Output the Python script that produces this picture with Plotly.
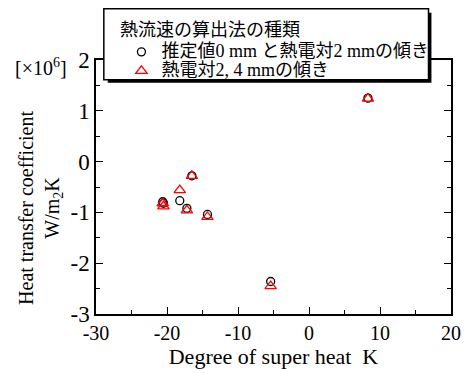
import plotly.graph_objects as go

# data
x_circle = [-20.6, -20.5, -18.2, -16.5, -17.2, -14.3, -5.4, 8.3]
y_circle = [-0.79, -0.82, -0.77, -0.28, -0.92, -1.04, -2.36, 1.25]
x_tri = [-20.6, -20.5, -18.2, -16.5, -17.2, -14.3, -5.4, 8.3]
y_tri = [-0.82, -0.88, -0.56, -0.28, -0.96, -1.09, -2.45, 1.24]
name_circle = "推定値0 mm と熱電対2 mmの傾き"
name_tri = "熱電対2, 4 mmの傾き"
legend_title = "熱流速の算出法の種類"
x_ticks = [-30, -20, -10, 0, 10, 20]
x_ticklabels = ["-30", "-20", "-10", "0", "10", "20"]
y_ticks = [-3, -2, -1, 0, 1, 2]
y_ticklabels = ["-3", "-2", "-1", "0", "1", "2"]

W, H = 473, 373
L, R, T, B = 96, 14, 60, 55
pw, ph = W - L - R, H - T - B

def px(xp):
    return (xp - L) / pw

def py(yp):
    return (H - B - yp) / ph

FONT = "Liberation Serif, Noto Sans CJK JP, serif"

def big(s, size=18):
    return f'<span style="font-size:{size}px">{s}</span>'

fig = go.Figure()
fig.add_trace(go.Scatter(x=x_circle, y=y_circle, mode="markers", name=big(name_circle),
                         marker=dict(symbol="circle-open", size=8, color="black", line=dict(width=1.3))))
fig.add_trace(go.Scatter(x=x_tri, y=y_tri, mode="markers", name=big(name_tri),
                         marker=dict(symbol="triangle-up-open", size=10, color="red", line=dict(width=1.3))))

axis_common = dict(showline=True, linecolor="black", linewidth=1.5, mirror="ticks",
                   ticks="inside", ticklen=7, tickwidth=1, tickcolor="black",
                   showgrid=False, zeroline=False)

fig.update_xaxes(range=[-30, 20], tickmode="array", tickvals=x_ticks, ticktext=x_ticklabels,
                 tickfont=dict(family=FONT, size=20, color="black"),
                 minor=dict(ticks="inside", dtick=5, tick0=-30, ticklen=4, tickcolor="black"),
                 title=dict(text="Degree of super heat\u00a0\u00a0K", font=dict(family=FONT, size=22, color="black"), standoff=2),
                 **axis_common)
fig.update_yaxes(range=[-3, 2], tickmode="array", tickvals=y_ticks, ticktext=y_ticklabels,
                 tickfont=dict(family=FONT, size=23, color="black"),
                 minor=dict(ticks="inside", dtick=0.5, tick0=-3, ticklen=4, tickcolor="black"),
                 **axis_common)

# y-axis title (placed as rotated text to match the reference position)
fig.add_annotation(text="Heat transfer coefficient<br>W/m<sub>2</sub>K", xref="paper", yref="paper",
                   x=px(39), y=py(210), xanchor="center", yanchor="middle", showarrow=False,
                   textangle=-90, font=dict(family=FONT, size=20, color="black"))

# legend box shadow and frame
fig.add_shape(type="rect", xref="paper", yref="paper",
              x0=px(108), x1=px(439), y0=py(83), y1=py(12),
              fillcolor="black", line=dict(width=0), layer="above")
fig.add_shape(type="rect", xref="paper", yref="paper",
              x0=px(104), x1=px(436), y0=py(80), y1=py(8),
              fillcolor="white", line=dict(width=1.5, color="black"), layer="above")
fig.add_annotation(text=legend_title, xref="paper", yref="paper",
                   x=px(119), y=py(30), xanchor="left", yanchor="middle", showarrow=False,
                   font=dict(family=FONT, size=18, color="black"))

fig.add_annotation(text="[×10<sup>6</sup>]", xref="paper", yref="paper",
                   x=px(11), y=py(67), xanchor="left", yanchor="middle", showarrow=False,
                   font=dict(family=FONT, size=20, color="black"))

fig.update_layout(
    width=W, height=H,
    margin=dict(l=L, r=R, t=T, b=B),
    plot_bgcolor="white", paper_bgcolor="white",
    font=dict(family=FONT, color="black"),
    showlegend=True,
    legend=dict(x=px(122), y=py(37), xanchor="left", yanchor="top",
                bgcolor="rgba(0,0,0,0)", borderwidth=0,
                font=dict(family=FONT, size=12, color="black"),
                tracegroupgap=0, itemwidth=30),
)

fig.write_html("out.html")
